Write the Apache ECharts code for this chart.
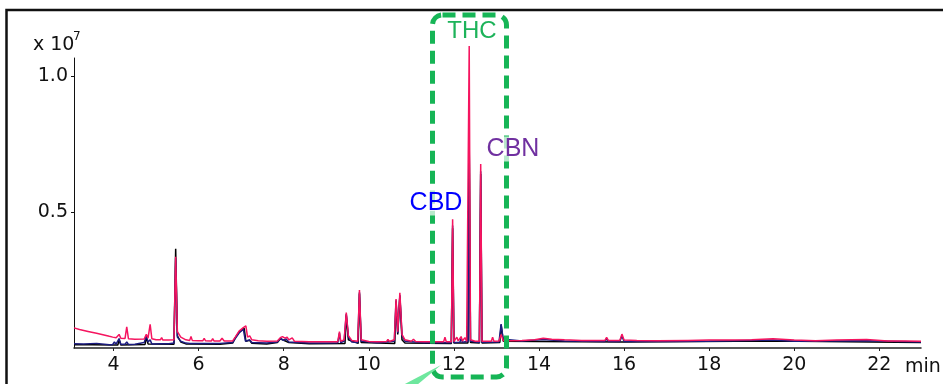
<!DOCTYPE html>
<html>
<head>
<meta charset="utf-8">
<script src="https://cdn.jsdelivr.net/npm/echarts@6/dist/echarts.min.js"></script>
<style>
html,body{margin:0;padding:0;background:#fff;}
#chart{width:943px;height:384px;}
</style>
</head>
<body>
<div id="chart"></div>
<script>
// retention time (min) vs. abundance (x 10^7)
const xTicks = [4, 6, 8, 10, 12, 14, 16, 18, 20, 22];
const yTicks = [0.5, 1.0];
const peakLabels = ['THC', 'CBN', 'CBD'];

const pinkTrace = [
 [3.07,0.074],[3.2,0.068],[3.4,0.061],[3.6,0.054],[3.8,0.047],[3.9,0.043],[3.98,0.040],[4.02,0.046],[4.06,0.038],[4.09,0.038],[4.13,0.050],[4.17,0.036],
 [4.27,0.035],[4.31,0.078],[4.35,0.034],[4.5,0.032],[4.72,0.033],[4.77,0.050],[4.81,0.036],[4.86,0.087],[4.9,0.034],[5.0,0.030],
 [5.1,0.030],[5.13,0.038],[5.16,0.029],[5.3,0.029],[5.42,0.030],[5.46,0.335],[5.5,0.060],[5.53,0.066],[5.58,0.040],[5.7,0.030],
 [5.79,0.028],[5.82,0.042],[5.85,0.028],[6.0,0.027],[6.1,0.027],[6.13,0.035],[6.16,0.027],[6.3,0.026],[6.33,0.034],[6.36,0.026],
 [6.5,0.026],[6.55,0.036],[6.6,0.026],[6.8,0.026],[6.86,0.040],[6.95,0.062],[7.05,0.075],[7.11,0.081],[7.15,0.040],[7.2,0.045],
 [7.25,0.030],[7.4,0.027],[7.6,0.025],[7.85,0.026],[7.92,0.038],[7.97,0.042],[8.03,0.036],[8.08,0.040],[8.12,0.030],[8.2,0.037],
 [8.25,0.025],[8.6,0.023],[9.0,0.023],[9.27,0.023],[9.31,0.060],[9.34,0.025],[9.42,0.030],[9.47,0.130],[9.52,0.045],[9.6,0.028],
 [9.74,0.025],[9.78,0.213],[9.82,0.030],[10.0,0.024],[10.2,0.023],[10.42,0.024],[10.45,0.032],[10.48,0.024],[10.6,0.030],[10.64,0.180],
 [10.68,0.060],[10.73,0.203],[10.78,0.050],[10.85,0.030],[11.0,0.025],[11.05,0.032],[11.1,0.024],[11.3,0.023],[11.6,0.023],[11.76,0.023],
 [11.79,0.040],[11.82,0.023],[11.94,0.023],[11.97,0.473],[12.0,0.024],[12.07,0.040],[12.1,0.026],[12.17,0.042],[12.2,0.026],[12.26,0.038],
 [12.3,0.024],[12.34,0.030],[12.36,1.11],[12.39,0.030],[12.5,0.025],[12.6,0.025],[12.63,0.676],[12.66,0.025],[12.8,0.025],[12.88,0.025],
 [12.91,0.040],[12.94,0.025],[13.06,0.026],[13.11,0.050],[13.16,0.027],[13.3,0.027],[13.6,0.028],[13.9,0.030],[14.1,0.036],[14.3,0.032],
 [14.6,0.030],[15.0,0.028],[15.3,0.028],[15.55,0.028],[15.59,0.039],[15.63,0.028],[15.9,0.028],[15.95,0.051],[16.0,0.029],[16.3,0.028],
 [16.8,0.027],[17.5,0.028],[18.0,0.029],[18.5,0.029],[19.0,0.030],[19.5,0.034],[20.0,0.029],[20.5,0.027],[21.0,0.029],[21.7,0.031],
 [22.2,0.026],[22.6,0.026],[22.98,0.025]
];

const navyTrace = [
 [3.07,0.016],[3.3,0.015],[3.6,0.017],[3.9,0.012],[3.98,0.013],[4.02,0.022],[4.06,0.014],[4.09,0.014],[4.13,0.035],[4.17,0.014],
 [4.27,0.014],[4.31,0.022],[4.35,0.013],[4.5,0.014],[4.72,0.020],[4.77,0.045],[4.81,0.022],[4.86,0.030],[4.9,0.015],[5.1,0.016],
 [5.3,0.016],[5.42,0.018],[5.46,0.330],[5.5,0.040],[5.53,0.045],[5.58,0.025],[5.7,0.018],[5.79,0.017],[5.82,0.022],[5.85,0.017],
 [6.0,0.017],[6.5,0.017],[6.8,0.020],[6.86,0.035],[6.95,0.055],[7.05,0.069],[7.1,0.025],[7.2,0.030],[7.25,0.020],[7.6,0.018],
 [7.85,0.022],[7.92,0.035],[8.0,0.028],[8.05,0.034],[8.12,0.022],[8.6,0.018],[9.0,0.018],[9.27,0.019],[9.31,0.055],[9.34,0.020],
 [9.42,0.025],[9.47,0.125],[9.52,0.040],[9.6,0.022],[9.74,0.020],[9.78,0.205],[9.82,0.025],[10.2,0.019],[10.6,0.025],[10.64,0.175],
 [10.68,0.055],[10.73,0.195],[10.78,0.045],[10.85,0.025],[11.3,0.019],[11.94,0.019],[11.97,0.450],[12.0,0.020],[12.14,0.021],[12.17,0.035],
 [12.2,0.021],[12.34,0.025],[12.36,0.754],[12.39,0.025],[12.6,0.020],[12.63,0.650],[12.66,0.021],[13.06,0.022],[13.11,0.088],[13.16,0.030],
 [13.3,0.030],[13.6,0.026],[14.1,0.031],[14.6,0.026],[15.55,0.024],[15.59,0.034],[15.63,0.024],[15.9,0.024],[15.95,0.044],[16.0,0.024],
 [17.0,0.024],[18.0,0.025],[19.5,0.029],[20.0,0.025],[21.7,0.027],[22.98,0.022]
];

const blackTrace = [
 [3.07,0.012],[3.5,0.012],[4.0,0.011],[4.1,0.011],[4.13,0.030],[4.17,0.011],[4.74,0.013],[4.77,0.040],[4.81,0.015],[5.42,0.014],
 [5.46,0.365],[5.5,0.045],[5.53,0.050],[5.58,0.022],[5.7,0.015],[6.5,0.014],[6.8,0.018],[6.86,0.038],[6.95,0.058],[7.07,0.072],
 [7.11,0.025],[7.2,0.028],[7.25,0.017],[7.6,0.015],[7.85,0.020],[7.92,0.034],[8.12,0.020],[8.6,0.016],[9.44,0.017],[9.47,0.120],
 [9.52,0.030],[9.75,0.017],[9.78,0.200],[9.82,0.020],[10.61,0.017],[10.64,0.170],[10.68,0.050],[10.73,0.190],[10.78,0.030],[10.85,0.018],
 [11.94,0.017],[11.97,0.440],[12.0,0.018],[12.33,0.018],[12.36,0.740],[12.39,0.020],[12.6,0.018],[12.63,0.640],[12.66,0.018],[13.08,0.020],
 [13.11,0.085],[13.16,0.025],[14.0,0.024],[16.0,0.022],[19.5,0.026],[22.98,0.020]
];

const chart = echarts.init(document.getElementById('chart'), null, {renderer: 'canvas'});
const font = '"Liberation Sans", Arial, sans-serif';
const tickFont = '"DejaVu Sans", "Liberation Sans", sans-serif';

function trace(data, color, z) {
  return {
    type: 'line', data: data, showSymbol: false, symbol: 'none', clip: false,
    lineStyle: {color: color, width: 1.5}, z: z, animation: false
  };
}

chart.setOption({
  animation: false,
  grid: {left: 74, right: 22, top: 58, bottom: 36, containLabel: false, outerBoundsMode: 'none'},
  xAxis: {
    type: 'value', min: 3.07, max: 22.98,
    axisLine: {show: true, lineStyle: {color: '#222', width: 1.5}},
    axisTick: {show: true, length: 3, customValues: xTicks, lineStyle: {color: '#222'}},
    axisLabel: {customValues: xTicks, fontFamily: tickFont, fontSize: 19, color: '#111', margin: 8},
    splitLine: {show: false}
  },
  yAxis: {
    type: 'value', min: 0, max: 1.066,
    axisLine: {show: true, lineStyle: {color: '#111', width: 1}},
    axisTick: {show: true, length: 3, customValues: yTicks, lineStyle: {color: '#111'}},
    axisLabel: {customValues: yTicks, fontFamily: tickFont, fontSize: 19, color: '#111', margin: 6,
      formatter: v => v.toFixed(1)},
    splitLine: {show: false}
  },
  series: [
    trace(blackTrace, '#000000', 2),
    trace(navyTrace, '#1c1c80', 3),
    trace(pinkTrace, '#f5145f', 4)
  ],
  graphic: [
    {type: 'rect', shape: {x: 6.5, y: 10, width: 1000, height: 1000}, silent: true, z: 1,
      style: {fill: 'none', stroke: '#111', lineWidth: 2.5}},
    {type: 'text', x: 33, y: 45, z: 10, style: {text: 'x 10', font: '19px ' + tickFont, fill: '#111', verticalAlign: 'middle'}},
    {type: 'text', x: 73, y: 37, z: 10, style: {text: '7', font: '12px ' + tickFont, fill: '#111', verticalAlign: 'middle'}},
    {type: 'text', x: 905, y: 367, z: 10, style: {text: 'min', font: '19px ' + tickFont, fill: '#111', verticalAlign: 'middle'}},
    {type: 'rect', shape: {x: 432.5, y: 15, width: 74, height: 362, r: 10}, z: 20,
      style: {fill: 'none', stroke: '#16b556', lineWidth: 5, lineDash: [13, 7]}},
    {type: 'polygon', shape: {points: [[441, 365], [403, 385], [417, 385]]}, z: 20,
      style: {fill: '#6ee79e'}},
    {type: 'text', x: 472, y: 31, z: 30, style: {text: peakLabels[0], font: '24px ' + font, fill: '#1db35a', align: 'center', verticalAlign: 'middle'}},
    {type: 'text', x: 513, y: 149, z: 30, style: {text: peakLabels[1], font: '25px ' + font, fill: '#7030a0', align: 'center', verticalAlign: 'middle', backgroundColor: 'rgba(255,255,255,0.7)'}},
    {type: 'text', x: 436, y: 203, z: 30, style: {text: peakLabels[2], font: '25px ' + font, fill: '#0000ff', align: 'center', verticalAlign: 'middle', backgroundColor: 'rgba(255,255,255,0.7)'}}
  ]
});
</script>
</body>
</html>
